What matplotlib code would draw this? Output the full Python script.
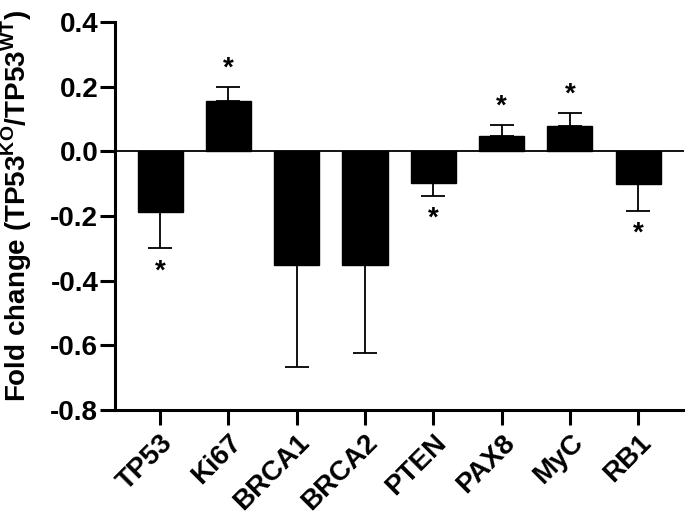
import matplotlib
matplotlib.use("Agg")
import matplotlib.pyplot as plt
import numpy as np

plt.rcParams['font.family'] = ['Liberation Sans', 'DejaVu Sans']
plt.rcParams['font.weight'] = 'bold'
plt.rcParams['mathtext.fontset'] = 'custom'
plt.rcParams['mathtext.rm'] = 'Liberation Sans:bold'
plt.rcParams['mathtext.bf'] = 'Liberation Sans:bold'

genes = ["TP53", "Ki67", "BRCA1", "BRCA2", "PTEN", "PAX8", "MyC", "RB1"]
fold_change = [-0.187, 0.155, -0.351, -0.351, -0.099, 0.048, 0.078, -0.100]
error = [0.113, 0.044, 0.317, 0.273, 0.038, 0.034, 0.041, 0.083]
significant = [True, True, False, False, True, True, True, True]
yticks = [-0.8, -0.6, -0.4, -0.2, 0.0, 0.2, 0.4]

fig = plt.figure(figsize=(6.85, 5.17), dpi=100)
ax = fig.add_axes([115/685, (517-410)/517, (684-115)/685, (410-22)/517])

x = np.arange(len(genes))
vals = np.array(fold_change)
errs = np.array(error)
ax.bar(x, vals, width=0.66, color='black', edgecolor='black', linewidth=1, zorder=2)

lower = np.where(vals < 0, errs, 0)
upper = np.where(vals > 0, errs, 0)
ax.errorbar(x, vals, yerr=[lower, upper], fmt='none', ecolor='black',
            elinewidth=1.3, capsize=8.6, capthick=1.3, zorder=1)

ax.axhline(0, color='black', linewidth=1.3, zorder=3)

for xi, v, e, s in zip(x, vals, errs, significant):
    if not s:
        continue
    if v > 0:
        ax.annotate('*', (xi, v + e), xytext=(0, 5), textcoords='offset pixels',
                    ha='center', va='bottom', fontsize=20, fontweight='bold')
    else:
        ax.annotate('*', (xi, v - e), xytext=(0, -10), textcoords='offset pixels',
                    ha='center', va='top', fontsize=20, fontweight='bold')

ax.set_xlim(-0.66, len(genes) - 1 + 0.67)
ax.set_ylim(-0.8, 0.4)
ax.set_yticks(yticks)
ax.set_yticklabels([f"{t:.1f}" for t in yticks])
ax.set_xticks(x)
ax.set_xticklabels(genes, rotation=45, ha='right', rotation_mode='anchor')

for lab in ax.get_xticklabels() + ax.get_yticklabels():
    lab.set_fontsize(20)
    lab.set_fontweight('bold')

ax.spines['top'].set_visible(False)
ax.spines['right'].set_visible(False)
ax.spines['left'].set_linewidth(2.2)
ax.spines['bottom'].set_linewidth(2.2)
ax.tick_params(axis='both', width=2.2, length=11, color='black')
ax.tick_params(axis='y', pad=1)
ax.tick_params(axis='x', pad=3)

ax.set_ylabel(r"Fold change (TP53$^{\mathbf{KO}}$/TP53$^{\mathbf{WT}}$)",
              fontsize=20, fontweight='bold')
ax.yaxis.set_label_coords(-0.143, 0.525)

fig.savefig("out.png", dpi=100)
